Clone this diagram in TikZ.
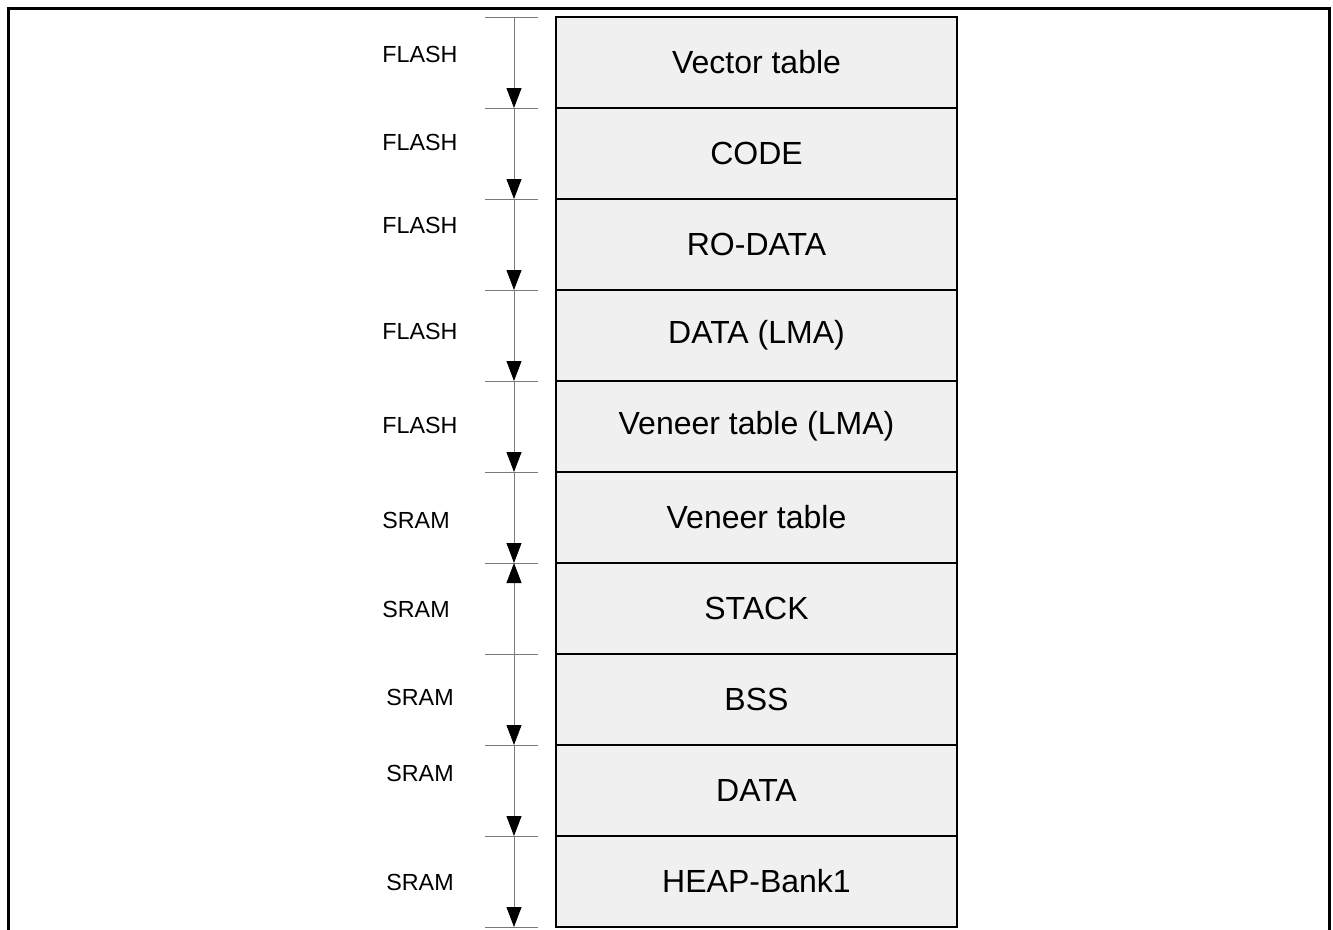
\documentclass[tikz,border=0pt]{standalone}
\usepackage{fontspec}
\setmainfont{Liberation Sans}
\usetikzlibrary{arrows.meta}
\definecolor{boxfill}{HTML}{F0F0F0}
\definecolor{dimgray}{HTML}{7A7A7A}
\tikzset{
  rowbox/.style={draw=black, line width=1.6pt, fill=boxfill, minimum width=401pt, minimum height=91pt, inner sep=0pt, outer sep=0pt, font=\fontsize{32}{36}\selectfont},
  memlabel/.style={font=\fontsize{23.3}{27}\selectfont, inner sep=0pt},
  tickline/.style={draw=dimgray, line width=0.9pt},
  dimline/.style={draw=dimgray, line width=0.9pt},
  tipdown/.style={dimline, -{Triangle[length=20pt,width=15pt,fill=black,color=black]}},
  tipup/.style={dimline, {Triangle[length=20pt,width=15pt,fill=black,color=black]}-},
  frame/.style={draw=black, line width=3pt}
}
\begin{document}
\begin{tikzpicture}[x=1pt,y=-1pt]
\useasboundingbox (0,0) rectangle (1333,929);
% outer frame (open at bottom)
\draw[frame] (8,940) -- (8,8) -- (1329,8) -- (1329,940);
% rows
\foreach \i/\t in {0/Vector table,1/CODE,2/RO-DATA,3/DATA (LMA),4/Veneer table (LMA),5/Veneer table,6/STACK,7/BSS,8/DATA,9/HEAP-Bank1}{
  \node[rowbox] (r\i) at (756.5,{62.5+91*\i}) {\t};
}
% boundary coordinates
\foreach \i in {0,...,10}{
  \coordinate (t\i) at (514,{17+91*\i});
  \draw[tickline] (485,{17+91*\i}) -- (538,{17+91*\i});
}
% dimension segments
\draw[tipdown] (t0) -- (t1);
\draw[tipdown] (t1) -- (t2);
\draw[tipdown] (t2) -- (t3);
\draw[tipdown] (t3) -- (t4);
\draw[tipdown] (t4) -- (t5);
\draw[tipdown] (t5) -- (t6);
\draw[tipup] (t6) -- (t7);
\draw[tipdown] (t7) -- (t8);
\draw[tipdown] (t8) -- (t9);
\draw[tipdown] (t9) -- (t10);
% labels
\node[memlabel] (l0) at (420,54) {FLASH};
\node[memlabel] (l1) at (420,142) {FLASH};
\node[memlabel] (l2) at (420,225) {FLASH};
\node[memlabel] (l3) at (420,331) {FLASH};
\node[memlabel] (l4) at (420,425) {FLASH};
\node[memlabel] (l5) at (416,520) {SRAM};
\node[memlabel] (l6) at (416,609) {SRAM};
\node[memlabel] (l7) at (420,697) {SRAM};
\node[memlabel] (l8) at (420,773) {SRAM};
\node[memlabel] (l9) at (420,882) {SRAM};
\end{tikzpicture}
\end{document}
